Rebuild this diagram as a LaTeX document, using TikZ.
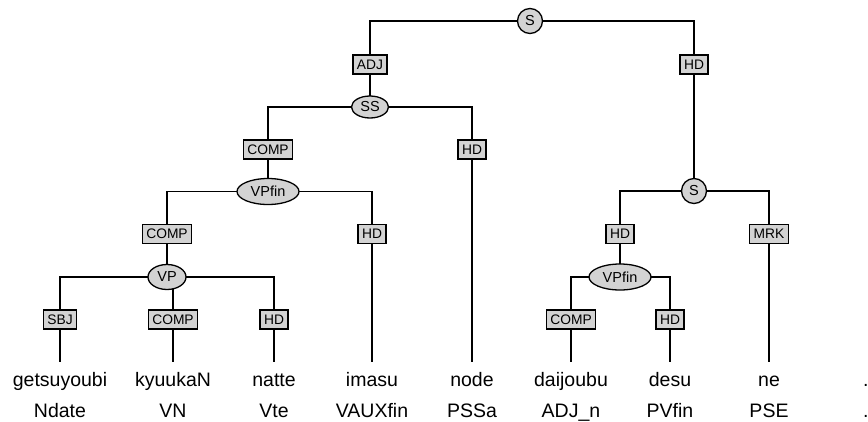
\documentclass[tikz,border=0pt]{standalone}
\usepackage{fontspec}
\setmainfont{Liberation Sans}
\usetikzlibrary{backgrounds,shapes.geometric}
\definecolor{nodegray}{RGB}{211,211,211}
\begin{document}
\begin{tikzpicture}[x=1pt,y=-1pt,
  edge/.style={draw=black,line width=1.3pt},
  tagbox/.style={draw=black,line width=1.3pt,fill=nodegray,rectangle,inner xsep=4pt,inner ysep=0pt,minimum height=19pt,font=\fontsize{13.8}{14}\selectfont},
  catnode/.style={draw=black,line width=1.3pt,fill=nodegray,ellipse,inner sep=0pt,font=\fontsize{14.5}{15}\selectfont},
  catcirc/.style={draw=black,line width=1.3pt,fill=nodegray,circle,inner sep=0pt,minimum size=25pt,font=\fontsize{14.5}{15}\selectfont},
  word/.style={anchor=base,inner sep=0pt,font=\fontsize{19.5}{20}\selectfont},
  ]
\useasboundingbox (0,0) rectangle (868,421);
% category nodes
\node[catcirc] (S0) at (530,21) {S};
\node[tagbox] (ADJ) at (370,64.5) {ADJ};
\node[tagbox] (HDa) at (694,64.5) {HD};
\node[catnode,minimum width=37pt,minimum height=22pt] (SS) at (370,107) {SS};
\node[tagbox] (COMPa) at (268,149.5) {COMP};
\node[tagbox] (HDb) at (472,149.5) {HD};
\node[catnode,minimum width=62pt,minimum height=26pt] (VPfinA) at (268,191.5) {VPfin};
\node[tagbox] (COMPb) at (167,234) {COMP};
\node[tagbox] (HDc) at (372,234) {HD};
\node[catnode,minimum width=38pt,minimum height=25pt] (VP) at (167,277) {VP};
\node[tagbox] (SBJ) at (60,319.5) {SBJ};
\node[tagbox] (COMPc) at (173,319.5) {COMP};
\node[tagbox] (HDd) at (274,319.5) {HD};
\node[catcirc] (S1) at (694,191) {S};
\node[tagbox] (HDe) at (620,234) {HD};
\node[tagbox] (MRK) at (769,234) {MRK};
\node[catnode,minimum width=62pt,minimum height=26pt] (VPfinB) at (620,277) {VPfin};
\node[tagbox] (COMPd) at (571,319.5) {COMP};
\node[tagbox] (HDf) at (670,319.5) {HD};
% words
\node[word] (w1) at (60,386) {getsuyoubi};
\node[word] (w2) at (173,386) {kyuukaN};
\node[word] (w3) at (274,386) {natte};
\node[word] (w4) at (372,386) {imasu};
\node[word] (w5) at (472,386) {node};
\node[word] (w6) at (571,386) {daijoubu};
\node[word] (w7) at (670,386) {desu};
\node[word] (w8) at (769,386) {ne};
\node[word,anchor=base west] (w9) at (863,386) {.};
\node[word] (t1) at (60,417) {Ndate};
\node[word] (t2) at (173,417) {VN};
\node[word] (t3) at (274,417) {Vte};
\node[word] (t4) at (372,417) {VAUXfin};
\node[word] (t5) at (472,417) {PSSa};
\node[word] (t6) at (571,417) {ADJ\_n};
\node[word] (t7) at (670,417) {PVfin};
\node[word] (t8) at (769,417) {PSE};
\node[word,anchor=base west] (t9) at (863,417) {.};
% tops of words
\coordinate (c1) at (60,362);
\coordinate (c2) at (173,362);
\coordinate (c3) at (274,362);
\coordinate (c4) at (372,362);
\coordinate (c5) at (472,362);
\coordinate (c6) at (571,362);
\coordinate (c7) at (670,362);
\coordinate (c8) at (769,362);
\begin{scope}[on background layer]
\draw[edge] (ADJ.center) |- (S0.center);
\draw[edge] (HDa.center) |- (S0.center);
\draw[edge] (ADJ.center) -- (SS.center);
\draw[edge] (HDa.center) -- (S1.center);
\draw[edge] (COMPa.center) |- (SS.center);
\draw[edge] (HDb.center) |- (SS.center);
\draw[edge] (HDb.center) -- (c5);
\draw[edge] (COMPa.center) -- (VPfinA.center);
\draw[edge] (COMPb.center) |- (VPfinA.center);
\draw[edge] (HDc.center) |- (VPfinA.center);
\draw[edge] (HDc.center) -- (c4);
\draw[edge] (COMPb.center) -- (VP.center);
\draw[edge] (SBJ.center) |- (VP.center);
\draw[edge] (HDd.center) |- (VP.center);
\draw[edge] (COMPc.center) -- (COMPc |- VP.center);
\draw[edge] (SBJ.center) -- (c1);
\draw[edge] (COMPc.center) -- (c2);
\draw[edge] (HDd.center) -- (c3);
\draw[edge] (HDe.center) |- (S1.center);
\draw[edge] (MRK.center) |- (S1.center);
\draw[edge] (MRK.center) -- (c8);
\draw[edge] (HDe.center) -- (VPfinB.center);
\draw[edge] (COMPd.center) |- (VPfinB.center);
\draw[edge] (HDf.center) |- (VPfinB.center);
\draw[edge] (COMPd.center) -- (c6);
\draw[edge] (HDf.center) -- (c7);
\end{scope}
\end{tikzpicture}
\end{document}
